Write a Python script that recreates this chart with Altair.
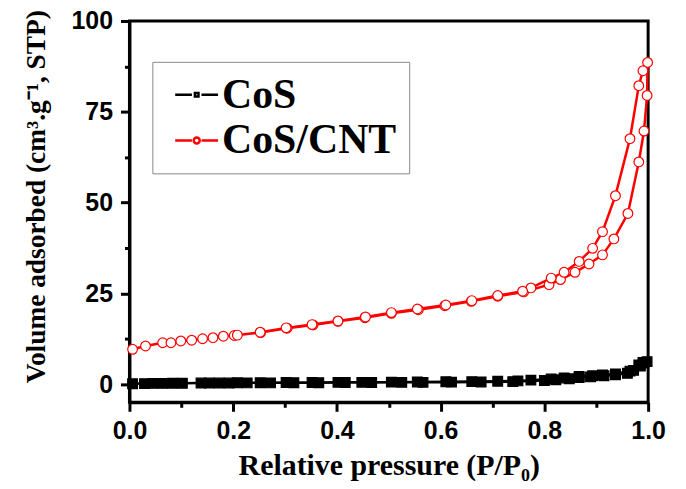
import altair as alt
import pandas as pd

# CoS/CNT isotherm (adsorption / desorption branches)
cnt_ads_p = [0.006, 0.031, 0.064, 0.080, 0.099, 0.120, 0.141, 0.161, 0.181, 0.202, 0.253, 0.304, 0.354,
             0.402, 0.454, 0.505, 0.557, 0.608, 0.659, 0.710, 0.760, 0.809, 0.831, 0.859, 0.886, 0.912,
             0.934, 0.961, 0.982, 0.992, 0.998, 0.999]
cnt_ads_v = [9.6, 10.5, 11.4, 11.4, 11.9, 12.1, 12.5, 12.8, 13.2, 13.4, 14.2, 15.4, 16.3,
             17.3, 18.3, 19.5, 20.5, 21.6, 22.8, 24.2, 25.4, 27.4, 28.8, 30.8, 33.1, 35.6,
             40.0, 47.0, 61.2, 69.7, 79.5, 88.6]
cnt_des_p = [0.990, 0.982, 0.965, 0.937, 0.912, 0.893, 0.867, 0.838, 0.813, 0.774, 0.758, 0.710,
             0.660, 0.610, 0.555, 0.505, 0.455, 0.402, 0.352, 0.302, 0.252, 0.208]
cnt_des_v = [86.3, 82.2, 67.6, 51.9, 42.0, 37.4, 33.8, 30.8, 29.2, 26.5, 25.6, 24.4,
             23.0, 21.8, 20.7, 19.7, 18.5, 17.4, 16.4, 15.5, 14.3, 13.5]

# CoS isotherm
cos_ads_p = [0.006, 0.029, 0.045, 0.064, 0.083, 0.102, 0.138, 0.154, 0.173, 0.192, 0.227, 0.272, 0.317,
             0.365, 0.416, 0.467, 0.525, 0.566, 0.621, 0.678, 0.739, 0.800, 0.822, 0.848, 0.867, 0.889,
             0.915, 0.937, 0.960, 0.972, 0.985, 0.992, 0.998]
cos_ads_v = [0.1, 0.15, 0.2, 0.2, 0.25, 0.25, 0.3, 0.3, 0.3, 0.3, 0.35, 0.35, 0.4,
             0.4, 0.45, 0.45, 0.5, 0.5, 0.55, 0.6, 0.7, 1.0, 1.2, 1.5, 1.8, 2.0,
             2.3, 2.6, 3.0, 3.8, 5.0, 5.8, 6.2]
cos_des_p = [0.990, 0.982, 0.965, 0.937, 0.912, 0.893, 0.867, 0.838, 0.813, 0.774, 0.749,
             0.710, 0.660, 0.610, 0.555, 0.505, 0.448, 0.402, 0.352, 0.302, 0.252, 0.208]
cos_des_v = [6.0, 5.3, 3.6, 2.8, 2.5, 2.3, 2.1, 1.7, 1.4, 1.1, 0.9,
             0.8, 0.7, 0.65, 0.6, 0.55, 0.5, 0.5, 0.45, 0.45, 0.4, 0.4]

series_names = ["CoS", "CoS/CNT"]
x_ticks = [0.0, 0.2, 0.4, 0.6, 0.8, 1.0]
x_minor = [0.1, 0.3, 0.5, 0.7, 0.9]
y_ticks = [0, 25, 50, 75, 100]
y_minor = [12.5, 37.5, 62.5, 87.5]

rows = []
idx = 0
for name, pa, va, pd_, vd in [("CoS", cos_ads_p, cos_ads_v, cos_des_p, cos_des_v),
                              ("CoS/CNT", cnt_ads_p, cnt_ads_v, cnt_des_p, cnt_des_v)]:
    for p, v in list(zip(pa, va)) + list(zip(pd_, vd)):
        rows.append({"series": name, "p": p, "v": v, "idx": idx})
        idx += 1
df = pd.DataFrame(rows)

xs = alt.Scale(domain=[0, 1], nice=False, zero=False)
ys = alt.Scale(domain=[-5, 100], nice=False, zero=False)
cs = alt.Scale(domain=series_names, range=["black", "red"])

# legend glyphs: short line - marker - short line
cos_path = "M-0.67,0H0.45M1.09,0H2.2M0.65,-0.12H0.89V0.12H0.65Z"
cnt_path = "M-0.67,0H0.45M1.09,0H2.2M0.57,0A0.2,0.2,0,1,0,0.97,0A0.2,0.2,0,1,0,0.57,0Z"

minor_x = alt.Axis(values=x_minor, labels=False, title=None, domain=False, tickSize=5,
                   tickWidth=3, tickColor="black", grid=False, orient="bottom")
minor_y = alt.Axis(values=y_minor, labels=False, title=None, domain=False, tickSize=5,
                   tickWidth=3, tickColor="black", grid=False, orient="left")

major_x = alt.Axis(values=x_ticks, format=".1f", title="Relative pressure (P/P₀)", orient="bottom",
                   grid=False, tickSize=9, tickWidth=3, tickColor="black", domainColor="black",
                   domainWidth=3, labelFont="Liberation Sans", labelFontWeight="bold", labelFontSize=25,
                   labelColor="black", labelBaseline="alphabetic", labelPadding=27, labelFlush=False,
                   titleFont="Liberation Serif", titleFontWeight="bold", titleFontSize=30,
                   titleColor="black", titleBaseline="alphabetic", titleY=73)
major_y = alt.Axis(values=y_ticks, format="d", title="Volume adsorbed (cm³.g⁻¹, STP)", orient="left",
                   grid=False, tickSize=9, tickWidth=3, tickColor="black", domainColor="black",
                   domainWidth=3, labelFont="Liberation Sans", labelFontWeight="bold", labelFontSize=25,
                   labelColor="black", labelBaseline="middle", labelPadding=8, labelFlush=False,
                   titleFont="Liberation Serif", titleFontWeight="bold", titleFontSize=27.5,
                   titleColor="black", titleBaseline="alphabetic", titleAngle=270, titleAlign="center",
                   titleX=-85, titleY=176)

line = alt.Chart(df).mark_line(strokeWidth=2.5).encode(
    x=alt.X("p:Q", scale=xs, axis=minor_x),
    y=alt.Y("v:Q", scale=ys, axis=minor_y),
    color=alt.Color("series:N", scale=cs, legend=None),
    order=alt.Order("idx:Q"),
)

points = alt.Chart(df).mark_point(filled=False, opacity=1, strokeWidth=1.2).encode(
    x=alt.X("p:Q", scale=xs, axis=major_x),
    y=alt.Y("v:Q", scale=ys, axis=major_y),
    color=alt.Color("series:N", scale=cs, legend=None),
    fill=alt.Fill("series:N", scale=alt.Scale(domain=series_names, range=["black", "white"]), legend=None),
    shape=alt.Shape("series:N", scale=alt.Scale(domain=series_names, range=["square", "circle"]), legend=None),
    size=alt.Size("series:N", scale=alt.Scale(domain=series_names, range=[95, 95]), legend=None),
)

leg = alt.Legend(
    title=None,
    symbolStrokeColor=alt.ExprRef("datum.value === 'CoS' ? 'black' : 'red'"),
    symbolFillColor=alt.ExprRef("datum.value === 'CoS' ? 'black' : 'white'"),
)

# legend-only layer (no marks drawn): its shape scale holds the legend glyphs
legend_layer = alt.Chart(df).transform_filter("false").mark_point(
    filled=False, opacity=1, strokeWidth=2.5
).encode(
    shape=alt.Shape("series:N", scale=alt.Scale(domain=series_names, range=[cos_path, cnt_path]),
                    legend=leg),
)

chart = alt.layer(line, points, legend_layer).resolve_axis(
    x="independent", y="independent"
).resolve_scale(shape="independent", fill="independent", size="independent").properties(
    width=521, height=383,
    autosize=alt.AutoSizeParams(type="none"),
    padding={"left": 122, "top": 12, "right": 30, "bottom": 84},
    background="white",
).configure_view(stroke="black", strokeWidth=3).configure_legend(
    orient="none", legendX=23, legendY=41, strokeColor="#888888", fillColor="white",
    padding=12, labelFont="Liberation Serif", labelFontWeight="bold", labelFontSize=42,
    labelColor="black", labelLimit=400, symbolSize=900, symbolStrokeWidth=2.5, labelOffset=16,
    rowPadding=4,
)

chart.save("out.html", embed_options={"renderer": "svg", "actions": False})
